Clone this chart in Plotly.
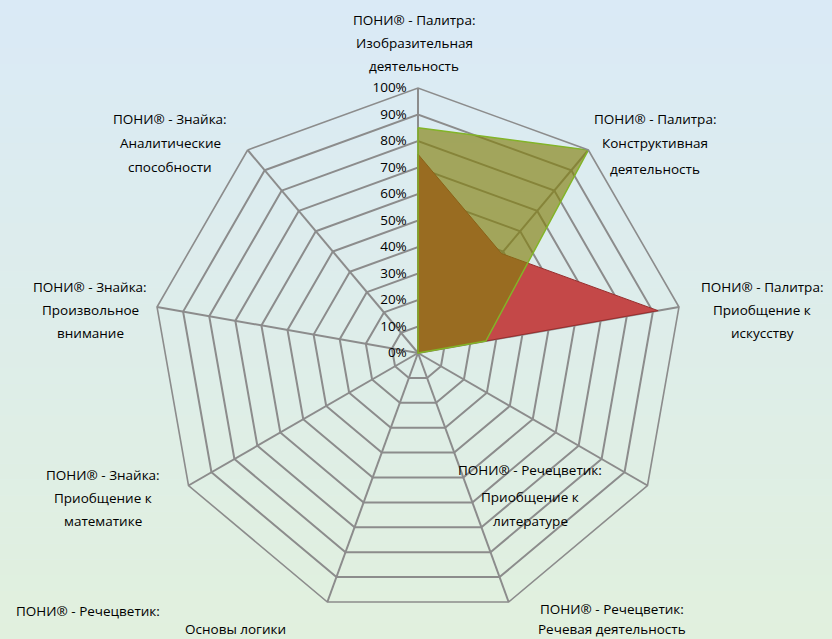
import plotly.graph_objects as go

# ---- data ----
categories = [
    "ПОНИ® - Палитра: Изобразительная деятельность",
    "ПОНИ® - Палитра: Конструктивная деятельность",
    "ПОНИ® - Палитра: Приобщение к искусству",
    "ПОНИ® - Речецветик: Приобщение к литературе",
    "ПОНИ® - Речецветик: Речевая деятельность",
    "ПОНИ® - Речецветик: Основы логики",
    "ПОНИ® - Знайка: Приобщение к математике",
    "ПОНИ® - Знайка: Произвольное внимание",
    "ПОНИ® - Знайка: Аналитические способности",
]
series_red = [0.75, 0.49, 0.92, 0, 0, 0, 0, 0, 0]
series_green = [0.85, 1.00, 0.26, 0, 0, 0, 0, 0, 0]
radial_ticks = [0, 0.1, 0.2, 0.3, 0.4, 0.5, 0.6, 0.7, 0.8, 0.9, 1.0]
radial_tick_labels = ["0%", "10%", "20%", "30%", "40%", "50%", "60%", "70%", "80%", "90%", "100%"]

# label lines placed as in the reference (text, x px, y px)
label_lines = [
    ("ПОНИ® - Палитра:", 414, 20), ("Изобразительная", 414, 43), ("деятельность", 414, 66),
    ("ПОНИ® - Палитра:", 655, 119), ("Конструктивная", 655, 143), ("деятельность", 655, 169),
    ("ПОНИ® - Палитра:", 762, 287), ("Приобщение к", 762, 310), ("искусству", 762, 333),
    ("ПОНИ® - Речецветик:", 530, 470), ("Приобщение к", 530, 497), ("литературе", 530, 521),
    ("ПОНИ® - Речецветик:", 612, 609), ("Речевая деятельность", 612, 629),
    ("ПОНИ® - Речецветик:", 88, 611), ("Основы логики", 235, 629),
    ("ПОНИ® - Знайка:", 103, 475), ("Приобщение к", 103, 498), ("математике", 103, 521),
    ("ПОНИ® - Знайка:", 90, 287), ("Произвольное", 90, 310), ("внимание", 90, 333),
    ("ПОНИ® - Знайка:", 170, 119), ("Аналитические", 170, 143), ("способности", 170, 167),
]

W, H = 832, 639
FONT = "Open Sans"

fig = go.Figure()
fig.add_trace(go.Scatterpolar(
    r=series_red + [series_red[0]], theta=categories + [categories[0]],
    fill="toself", fillcolor="rgb(196,72,72)",
    line=dict(color="rgb(150,45,45)", width=1), mode="lines",
    showlegend=False, hoverinfo="r+theta",
))
fig.add_trace(go.Scatterpolar(
    r=series_green + [series_green[0]], theta=categories + [categories[0]],
    fill="toself", fillcolor="rgba(130,128,12,0.65)",
    line=dict(color="rgb(130,180,40)", width=1.5), mode="lines",
    showlegend=False, hoverinfo="r+theta",
))

# background gradient (light blue top -> light green bottom)
shapes = []
n = 40
top = (218, 234, 246)
bot = (225, 240, 222)
for i in range(n):
    t = i / (n - 1)
    c = tuple(int(round(top[k] + (bot[k] - top[k]) * t)) for k in range(3))
    shapes.append(dict(type="rect", xref="paper", yref="paper",
                       x0=0, x1=1, y0=1 - (i + 1) / n, y1=1 - i / n,
                       fillcolor="rgb(%d,%d,%d)" % c, line=dict(width=0), layer="below"))

annotations = []
for txt, x, y in label_lines:
    annotations.append(dict(text=txt, x=x / W, y=1 - y / H, xref="paper", yref="paper",
                            showarrow=False, xanchor="center", yanchor="middle",
                            font=dict(family=FONT, size=13.5, color="black")))

cx, cy, R = 418, 353, 265
fig.update_layout(
    width=W, height=H,
    margin=dict(l=0, r=0, t=0, b=0),
    paper_bgcolor="rgb(222,236,236)",
    shapes=shapes,
    annotations=annotations,
    font=dict(family=FONT, size=13, color="black"),
    polar=dict(
        domain=dict(x=[(cx - R) / W, (cx + R) / W], y=[(H - cy - R) / H, (H - cy + R) / H]),
        bgcolor="rgba(0,0,0,0)",
        gridshape="linear",
        radialaxis=dict(
            range=[0, 1], tickvals=radial_ticks, ticktext=radial_tick_labels,
            angle=90, tickangle=90, side="counterclockwise",
            showline=False, ticks="outside", ticklen=6, tickcolor="rgba(0,0,0,0)",
            gridcolor="rgb(140,140,140)", gridwidth=1.6,
            tickfont=dict(family=FONT, size=13.5, color="black"),
        ),
        angularaxis=dict(
            direction="clockwise", rotation=90,
            showticklabels=False, ticks="",
            showline=True, linecolor="rgb(140,140,140)", linewidth=1.6,
            gridcolor="rgb(140,140,140)", gridwidth=1.6,
        ),
    ),
)

fig.write_html(
    "out.html",
    config={"displayModeBar": False},
    post_script="document.body.style.margin='0';document.body.style.overflow='hidden';",
)
